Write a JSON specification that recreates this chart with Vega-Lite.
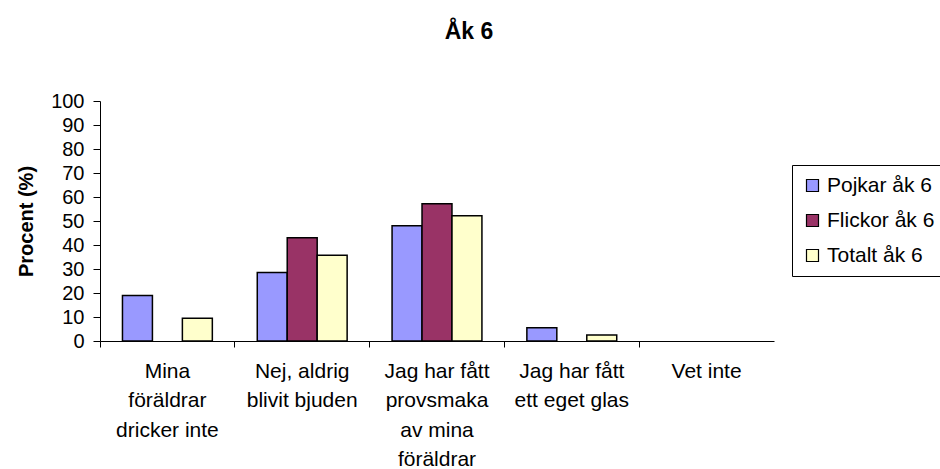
{
  "$schema": "https://vega.github.io/schema/vega-lite/v6.json",
  "width": 674,
  "height": 240,
  "autosize": "none",
  "padding": {"left": 100, "top": 101, "right": 166, "bottom": 128},
  "background": "white",
  "title": {
    "text": "Åk 6",
    "font": "Liberation Sans",
    "fontSize": 23,
    "fontWeight": "bold",
    "color": "black",
    "anchor": "middle",
    "dx": 32,
    "offset": 47
  },
  "data": {
    "values": [
      {"kategori": "Mina föräldrar dricker inte", "grupp": "Pojkar åk 6", "procent": 19},
      {"kategori": "Mina föräldrar dricker inte", "grupp": "Flickor åk 6", "procent": 0},
      {"kategori": "Mina föräldrar dricker inte", "grupp": "Totalt åk 6", "procent": 9.5},
      {"kategori": "Nej, aldrig blivit bjuden", "grupp": "Pojkar åk 6", "procent": 28.5},
      {"kategori": "Nej, aldrig blivit bjuden", "grupp": "Flickor åk 6", "procent": 43},
      {"kategori": "Nej, aldrig blivit bjuden", "grupp": "Totalt åk 6", "procent": 35.7},
      {"kategori": "Jag har fått provsmaka av mina föräldrar", "grupp": "Pojkar åk 6", "procent": 48},
      {"kategori": "Jag har fått provsmaka av mina föräldrar", "grupp": "Flickor åk 6", "procent": 57.2},
      {"kategori": "Jag har fått provsmaka av mina föräldrar", "grupp": "Totalt åk 6", "procent": 52.2},
      {"kategori": "Jag har fått ett eget glas", "grupp": "Pojkar åk 6", "procent": 5.5},
      {"kategori": "Jag har fått ett eget glas", "grupp": "Flickor åk 6", "procent": 0},
      {"kategori": "Jag har fått ett eget glas", "grupp": "Totalt åk 6", "procent": 2.5},
      {"kategori": "Vet inte", "grupp": "Pojkar åk 6", "procent": 0},
      {"kategori": "Vet inte", "grupp": "Flickor åk 6", "procent": 0},
      {"kategori": "Vet inte", "grupp": "Totalt åk 6", "procent": 0}
    ]
  },
  "mark": {"type": "bar", "stroke": "black", "strokeWidth": 1.5},
  "encoding": {
    "x": {
      "field": "kategori",
      "type": "nominal",
      "sort": null,
      "scale": {"paddingInner": 0, "paddingOuter": 0},
      "axis": {
        "title": null,
        "labelAngle": 0,
        "labelFont": "Liberation Sans",
        "labelFontSize": 21,
        "labelColor": "black",
        "labelLineHeight": 29.5,
        "labelBaseline": "top",
        "labelPadding": 13,
        "labelLimit": 0,
        "bandPosition": 0,
        "domainColor": "black",
        "tickColor": "black",
        "tickSize": 6,
        "labelExpr": "datum.label == 'Mina föräldrar dricker inte' ? ['Mina', 'föräldrar', 'dricker inte'] : datum.label == 'Nej, aldrig blivit bjuden' ? ['Nej, aldrig', 'blivit bjuden'] : datum.label == 'Jag har fått provsmaka av mina föräldrar' ? ['Jag har fått', 'provsmaka', 'av mina', 'föräldrar'] : datum.label == 'Jag har fått ett eget glas' ? ['Jag har fått', 'ett eget glas'] : datum.label"
      }
    },
    "xOffset": {
      "field": "grupp",
      "type": "nominal",
      "sort": ["Pojkar åk 6", "Flickor åk 6", "Totalt åk 6"],
      "scale": {"paddingInner": 0, "paddingOuter": 0.75}
    },
    "y": {
      "field": "procent",
      "type": "quantitative",
      "scale": {"domain": [0, 100], "nice": false},
      "axis": {
        "title": "Procent (%)",
        "titleFont": "Liberation Sans",
        "titleFontSize": 20,
        "titleFontWeight": "bold",
        "titleColor": "black",
        "titlePadding": 14,
        "values": [0, 10, 20, 30, 40, 50, 60, 70, 80, 90, 100],
        "labelFont": "Liberation Sans",
        "labelFontSize": 20,
        "labelColor": "black",
        "labelPadding": 9,
        "grid": false,
        "domainColor": "black",
        "tickColor": "black",
        "tickSize": 7
      }
    },
    "color": {
      "field": "grupp",
      "type": "nominal",
      "sort": ["Pojkar åk 6", "Flickor åk 6", "Totalt åk 6"],
      "scale": {
        "domain": ["Pojkar åk 6", "Flickor åk 6", "Totalt åk 6"],
        "range": ["#9999FF", "#993366", "#FFFFCC"]
      },
      "legend": {
        "title": null,
        "orient": "none",
        "legendX": 692,
        "legendY": 64,
        "strokeColor": "black",
        "fillColor": "white",
        "padding": 10,
        "symbolType": "square",
        "symbolSize": 144,
        "symbolStrokeColor": "black",
        "symbolStrokeWidth": 1.2,
        "labelFont": "Liberation Sans",
        "labelFontSize": 21,
        "labelColor": "black",
        "labelOffset": 4,
        "rowPadding": 13
      }
    },
    "strokeOpacity": {
      "condition": {"test": "datum.procent > 0", "value": 1},
      "value": 0
    }
  },
  "config": {
    "view": {"stroke": null},
    "axis": {"domainWidth": 1, "tickWidth": 1}
  }
}
